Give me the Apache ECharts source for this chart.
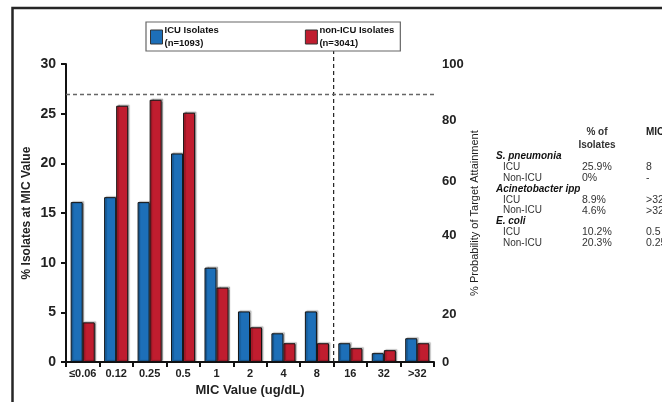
<!DOCTYPE html>
<html>
<head>
<meta charset="utf-8">
<script src="https://cdn.jsdelivr.net/npm/echarts@6/dist/echarts.min.js"></script>
<style>
html,body{margin:0;padding:0;background:#fff;}
#chart{width:662px;height:402px;}
</style>
</head>
<body>
<div id="chart"></div>
<script>
// ---- data ----
const micCategories = ['≤0.06', '0.12', '0.25', '0.5', '1', '2', '4', '8', '16', '32', '>32'];
const icuValues    = [16.1, 16.6, 16.1, 21.0, 9.5, 5.1, 2.9, 5.1, 1.9, 0.9, 2.4];
const nonIcuValues = [4.0, 25.8, 26.4, 25.1, 7.5, 3.5, 1.9, 1.9, 1.4, 1.2, 1.9];
const seriesNames = ['ICU Isolates\n(n=1093)', 'non-ICU Isolates\n(n=3041)'];
const leftTicks = { min: 0, max: 30, interval: 5 };
// right axis (probability of target attainment) labels and where they sit on the left scale
const ptaTickLabels = ['0', '20', '40', '60', '80', '100'];
const ptaTickPositions = [0, 4.8, 12.7, 18.2, 24.3, 30];
const targetLevel = 27;          // 90% PTA dashed line, on left scale
const breakpointBoundary = 8;    // boundary between MIC 8 and 16
const breakpointTop = 31.3;
// table
const tableHeader = ['% of\nIsolates', 'MIC'];
const tableOrganisms = ['S. pneumonia', 'Acinetobacter ipp', 'E. coli'];
const tableGroups = ['ICU', 'Non-ICU'];
const tablePctIsolates = [['25.9%', '0%'], ['8.9%', '4.6%'], ['10.2%', '20.3%']];
const tableMic = [['8', '-'], ['>32', '>32'], ['0.5', '0.25']];

// ---- chart ----
const BLUE = '#1d6fb8', RED = '#c01d2f';
const chart = echarts.init(document.getElementById('chart'), null, { renderer: 'canvas' });

const graphics = [];
graphics.push({
  type: 'polyline', silent: true,
  shape: { points: [[12.5, 402], [12.5, 8], [662, 8]] },
  style: { stroke: '#262626', lineWidth: 2.5, fill: null }
});
const tx = { org: 496, sub: 503, pct: 582, mic: 646 };
const fontBase = { fontFamily: 'Liberation Sans, Arial, sans-serif', fontSize: 10, fill: '#222', verticalAlign: 'middle' };
graphics.push({ type: 'text', silent: true, style: Object.assign({}, fontBase, { text: tableHeader[0], x: 597, y: 138.5, align: 'center', fontWeight: 'bold', lineHeight: 13, fill: '#333' }) });
graphics.push({ type: 'text', silent: true, style: Object.assign({}, fontBase, { text: tableHeader[1], x: tx.mic, y: 132, fontWeight: 'bold' }) });
let rowY = 156.7;
const rowH = 10.8;
tableOrganisms.forEach((org, i) => {
  graphics.push({ type: 'text', silent: true, style: Object.assign({}, fontBase, { text: org, x: tx.org, y: rowY, fontWeight: 'bold', fontStyle: 'italic', fill: '#111' }) });
  rowY += rowH;
  tableGroups.forEach((g, j) => {
    graphics.push({ type: 'text', silent: true, style: Object.assign({}, fontBase, { text: g, x: tx.sub, y: rowY, fill: '#333' }) });
    graphics.push({ type: 'text', silent: true, style: Object.assign({}, fontBase, { text: tablePctIsolates[i][j], x: tx.pct, y: rowY, fill: '#333', fontSize: 10.5 }) });
    graphics.push({ type: 'text', silent: true, style: Object.assign({}, fontBase, { text: tableMic[i][j], x: tx.mic, y: rowY, fill: '#333', fontSize: 10.5 }) });
    rowY += rowH;
  });
});

const barStyle = (c) => ({
  color: c, borderColor: '#111', borderWidth: 1,
  shadowColor: 'rgba(0,0,0,0.3)', shadowBlur: 1, shadowOffsetX: 1.5, shadowOffsetY: -1
});

const option = {
  animation: false,
  backgroundColor: '#fff',
  textStyle: { fontFamily: 'Liberation Sans, Arial, sans-serif' },
  grid: { left: 66, right: 228, top: 64, bottom: 37, containLabel: false },
  legend: {
    data: seriesNames,
    left: 146, top: 22,
    orient: 'horizontal',
    itemGap: 86,
    itemWidth: 12, itemHeight: 14,
    padding: [2, 6, 1, 4],
    borderColor: '#666', borderWidth: 1.2,
    icon: 'rect',
    itemStyle: { borderColor: '#333', borderWidth: 1 },
    textStyle: { fontSize: 9.5, fontWeight: 'bold', color: '#111', lineHeight: 13, padding: [0, 0, 0, -3] }
  },
  xAxis: [{
    type: 'category',
    data: micCategories,
    name: 'MIC Value (ug/dL)',
    nameLocation: 'middle', nameGap: 20,
    nameTextStyle: { fontSize: 13, fontWeight: 'bold', color: '#222' },
    axisLine: { lineStyle: { color: '#111', width: 2 } },
    axisTick: { show: true, length: 5, lineStyle: { color: '#111', width: 2 } },
    axisLabel: { fontSize: 11, fontWeight: 'bold', color: '#222', margin: 6, interval: 0 }
  }, {
    type: 'value', min: 0, max: micCategories.length, show: false
  }],
  yAxis: [{
    type: 'value',
    min: leftTicks.min, max: leftTicks.max, interval: leftTicks.interval,
    name: '% Isolates at MIC Value',
    nameLocation: 'middle', nameGap: 33, nameRotate: 90, nameMoveOverlap: false,
    nameTextStyle: { fontSize: 12, fontWeight: 'bold', color: '#222' },
    axisLine: { show: true, lineStyle: { color: '#111', width: 2 } },
    axisTick: { show: true, length: 5, lineStyle: { color: '#111', width: 2 } },
    axisLabel: { fontSize: 14, fontWeight: 'bold', color: '#222', margin: 10 },
    splitLine: { show: false }
  }, {
    type: 'value',
    min: leftTicks.min, max: leftTicks.max,
    position: 'right',
    name: '% Probability of Target Attainment',
    nameLocation: 'middle', nameGap: 35, nameRotate: 90, nameMoveOverlap: false,
    nameTextStyle: { fontSize: 11, color: '#222' },
    axisLine: { show: false },
    axisTick: { show: false },
    axisLabel: {
      customValues: ptaTickPositions,
      formatter: (v) => {
        const k = ptaTickPositions.indexOf(v);
        return k >= 0 ? ptaTickLabels[k] : '';
      },
      fontSize: 13, fontWeight: 'bold', color: '#222', margin: 8, align: 'left'
    },
    splitLine: { show: false }
  }],
  series: [{
    name: seriesNames[0], type: 'bar', data: icuValues,
    barGap: '0%', barCategoryGap: '28%',
    itemStyle: barStyle(BLUE),
    markLine: {
      silent: true, symbol: 'none', label: { show: false },
      lineStyle: { color: '#666', type: [4, 3], width: 1.3 },
      data: [{ yAxis: targetLevel }]
    }
  }, {
    name: seriesNames[1], type: 'bar', data: nonIcuValues,
    itemStyle: barStyle(RED)
  }, {
    name: 'breakpoint', type: 'line', xAxisIndex: 1, yAxisIndex: 0,
    data: [[breakpointBoundary, 0], [breakpointBoundary, breakpointTop]],
    symbol: 'none', clip: false, silent: true,
    lineStyle: { color: '#222', type: [4, 3], width: 1.2 }
  }],
  graphic: graphics
};
chart.setOption(option);
</script>
</body>
</html>
